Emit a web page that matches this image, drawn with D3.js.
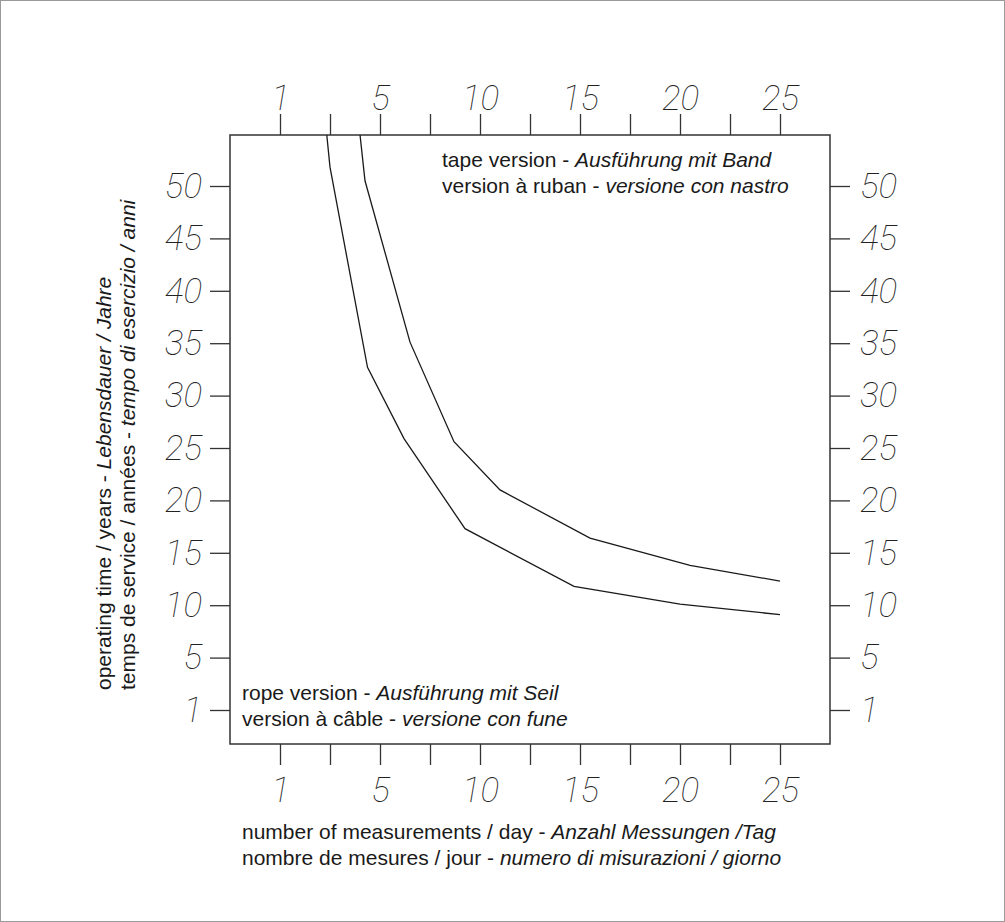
<!DOCTYPE html>
<html>
<head>
<meta charset="utf-8">
<script src="https://cdn.jsdelivr.net/npm/d3@7"></script>
<style>
  body { margin: 0; background: #fff; }
  svg { display: block; }
  .num { font-family: Roboto, "DejaVu Sans", sans-serif; font-weight: 100; font-style: italic; font-size: 35px; fill: #222; }
  .txt { font-family: "Liberation Sans", Arial, sans-serif; font-size: 21px; fill: #1a1a1a; }
  .it { font-style: italic; }
</style>
</head>
<body>
<div id="chart"></div>
<script>
// ticks and labels (the "1" sits where a 0 would be)
var xTicks = [1, 3, 5, 7.5, 10, 12.5, 15, 17.5, 20, 22.5, 25]
var xLabels = [1, 5, 10, 15, 20, 25]
var yTicks = [1, 5, 10, 15, 20, 25, 30, 35, 40, 45, 50]

// measurements per day vs. years of operation
var ropeX = [2.87, 3.0, 4.5, 6.2, 9.25, 14.7, 20.0, 25.0]
var ropeY = [54.9, 51.8, 32.7, 25.9, 17.3, 11.8, 10.1, 9.1]
var tapeX = [4.2, 4.4, 6.5, 8.7, 11.0, 15.5, 20.5, 25.0]
var tapeY = [54.9, 50.5, 35.1, 25.6, 21.0, 16.4, 13.8, 12.3]

var width = 1005, height = 922
var box = { left: 230, right: 830, top: 135, bottom: 744 }

var svg = d3.select("#chart").append("svg")
    .attr("width", width)
    .attr("height", height)

// outer frame
svg.append("rect")
    .attr("x", 0.5).attr("y", 0.5)
    .attr("width", width - 1).attr("height", height - 1)
    .style("fill", "none")
    .style("stroke", "#9a9a9a")

var x = d3.scaleLinear().domain([1, 5, 25]).range([280, 380, 780])
var y = d3.scaleLinear().domain([1, 5, 50]).range([710, 657.6, 186])

svg.append("defs").append("clipPath").attr("id", "clip")
  .append("rect")
    .attr("x", box.left).attr("y", box.top)
    .attr("width", box.right - box.left).attr("height", box.bottom - box.top)

function fmt(d) { return xLabels.indexOf(d) >= 0 ? d : "" }

var axTop = svg.append("g")
    .attr("transform", "translate(0," + box.top + ")")
    .call(d3.axisTop(x).tickValues(xTicks).tickSize(21).tickPadding(2).tickFormat(fmt))
var axBottom = svg.append("g")
    .attr("transform", "translate(0," + box.bottom + ")")
    .call(d3.axisBottom(x).tickValues(xTicks).tickSize(21).tickPadding(4).tickFormat(fmt))
var axLeft = svg.append("g")
    .attr("transform", "translate(" + box.left + ",0)")
    .call(d3.axisLeft(y).tickValues(yTicks).tickSize(20).tickPadding(8))
var axRight = svg.append("g")
    .attr("transform", "translate(" + box.right + ",0)")
    .call(d3.axisRight(y).tickValues(yTicks).tickSize(20).tickPadding(10))

var axes = [axTop, axBottom, axLeft, axRight]
axes.forEach(function(g) {
  g.select(".domain").remove()
  g.selectAll(".tick line").style("stroke", "#333").style("stroke-width", 1.3)
  g.selectAll(".tick text").attr("class", "num")
  g.attr("font-size", null).attr("font-family", null)
})
axTop.selectAll(".tick text").attr("dy", "-0.05em")
axBottom.selectAll(".tick text").attr("dy", "0.95em")

svg.append("rect")
    .attr("x", box.left).attr("y", box.top)
    .attr("width", box.right - box.left).attr("height", box.bottom - box.top)
    .style("fill", "none")
    .style("stroke", "#333")
    .style("stroke-width", 1.5)

var line = d3.line()
    .x(function(d) { return x(d[0]) })
    .y(function(d) { return y(d[1]) })

var series = [d3.zip(ropeX, ropeY), d3.zip(tapeX, tapeY)]
svg.append("g").attr("clip-path", "url(#clip)")
  .selectAll("path.curve")
    .data(series)
  .enter().append("path")
    .attr("class", "curve")
    .attr("d", line)
    .style("fill", "none")
    .style("stroke", "#1a1a1a")
    .style("stroke-width", 1.3)

function twoPart(g, px, py, a, b, rotate) {
  var t = g.append("text").attr("class", "txt")
      .attr("x", px).attr("y", py)
  if (rotate) t.attr("transform", "rotate(-90," + px + "," + py + ")")
  t.append("tspan").text(a)
  t.append("tspan").attr("class", "it").text(b)
}

twoPart(svg, 442, 167, "tape version - ", "Ausführung mit Band")
twoPart(svg, 442, 193, "version à ruban - ", "versione con nastro")
twoPart(svg, 242, 700, "rope version - ", "Ausführung mit Seil")
twoPart(svg, 242, 726, "version à câble - ", "versione con fune")
twoPart(svg, 242, 839, "number of measurements / day - ", "Anzahl Messungen /Tag")
twoPart(svg, 242, 865, "nombre de mesures / jour - ", "numero di misurazioni / giorno")
twoPart(svg, 111, 690, "operating time / years - ", "Lebensdauer / Jahre", true)
twoPart(svg, 135, 690, "temps de service / années - ", "tempo di esercizio / anni", true)
</script>
</body>
</html>
